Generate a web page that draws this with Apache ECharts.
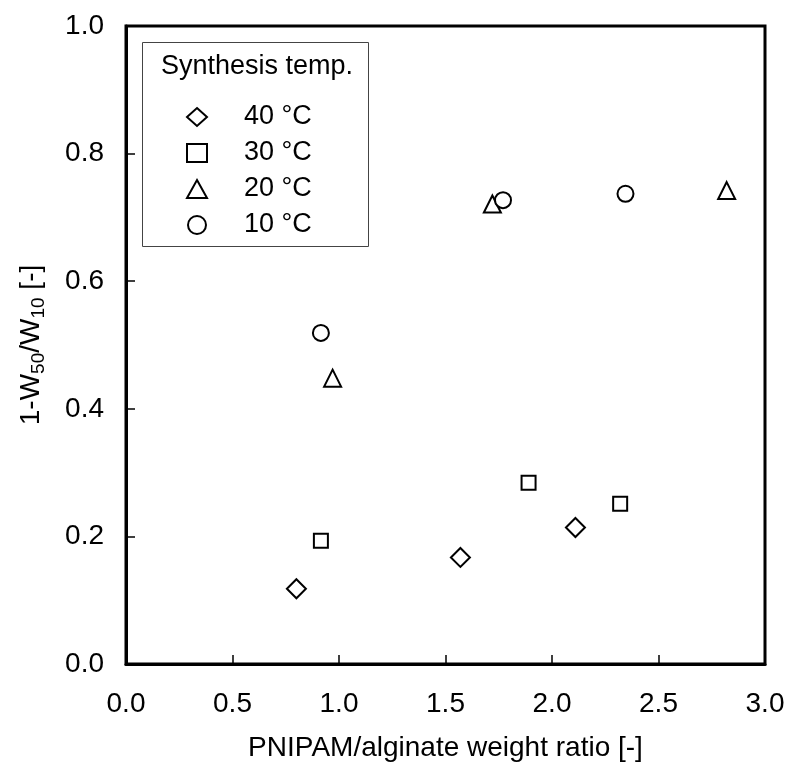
<!DOCTYPE html>
<html>
<head>
<meta charset="UTF-8">
<title>PNIPAM/alginate</title>
<style>
html, body { margin: 0; padding: 0; background: #fff; }
#chart { width: 791px; height: 767px; }
</style>
</head>
<body>
<div id="chart"></div>
<script src="https://cdn.jsdelivr.net/npm/echarts@6/dist/echarts.min.js"></script>
<script>
// data: [PNIPAM/alginate ratio, 1-W50/W10]
var seriesNames = ['40 °C', '30 °C', '20 °C', '10 °C'];
var t40 = [[0.80, 0.118], [1.57, 0.167], [2.11, 0.214]];
var t30 = [[0.915, 0.193], [1.89, 0.284], [2.32, 0.251]];
var t20 = [[0.97, 0.448], [1.72, 0.721], [2.82, 0.742]];
var t10 = [[0.915, 0.519], [1.77, 0.727], [2.345, 0.737]];

var FONT = "'Liberation Sans', Arial, sans-serif";
var chart = echarts.init(document.getElementById('chart'));

function mk(name, sym, size, data) {
  return {
    name: name,
    type: 'scatter',
    symbol: sym,
    symbolSize: size,
    data: data,
    itemStyle: { color: '#fff', borderColor: '#000', borderWidth: 2, opacity: 1 },
    emphasis: { disabled: true }
  };
}

var option = {
  backgroundColor: '#fff',
  animation: false,
  textStyle: { fontFamily: FONT },
  title: {
    text: 'Synthesis temp.',
    left: 161, top: 53, padding: 0,
    textStyle: { fontFamily: FONT, fontSize: 27, fontWeight: 'normal', color: '#000' }
  },
  legend: {
    orient: 'vertical',
    left: 186, top: 103, padding: 0,
    itemWidth: 20, itemHeight: 18, itemGap: 8,
    data: seriesNames,
    itemStyle: { color: '#fff', borderColor: '#000', borderWidth: 2 },
    textStyle: { fontFamily: FONT, fontSize: 27, color: '#000', lineHeight: 28, padding: [0, 0, 0, 32] }
  },
  graphic: [{
    type: 'rect', left: 142, top: 42, z: 0,
    shape: { width: 226, height: 204 },
    style: { fill: '#fff', stroke: '#444', lineWidth: 1 }
  }],
  grid: {
    left: 126, right: 26, top: 26, bottom: 103,
    show: true, borderColor: '#000', borderWidth: 3, backgroundColor: 'transparent'
  },
  xAxis: {
    type: 'value', min: 0, max: 3, interval: 0.5,
    name: 'PNIPAM/alginate weight ratio [-]',
    nameLocation: 'middle', nameGap: 70,
    nameTextStyle: { fontFamily: FONT, fontSize: 28, color: '#000' },
    axisLine: { show: true, lineStyle: { color: '#000', width: 3 } },
    axisTick: { show: true, inside: true, length: 9, lineStyle: { color: '#000', width: 1.5 } },
    axisLabel: { margin: 26, fontFamily: FONT, fontSize: 28, color: '#000',
      formatter: function (v) { return v.toFixed(1); } },
    splitLine: { show: false }
  },
  yAxis: {
    type: 'value', min: 0, max: 1, interval: 0.2,
    name: '1-W{sub|50}/W{sub|10} [-]',
    nameLocation: 'middle', nameGap: 78,
    nameTextStyle: {
      fontFamily: FONT, fontSize: 28, color: '#000',
      rich: { sub: { fontFamily: FONT, fontSize: 19, color: '#000', padding: [14, 0, 0, 0] } }
    },
    axisLine: { show: true, lineStyle: { color: '#000', width: 3 } },
    axisTick: { show: true, inside: true, length: 9, lineStyle: { color: '#000', width: 1.5 } },
    axisLabel: { margin: 22, fontFamily: FONT, fontSize: 28, color: '#000',
      formatter: function (v) { return v.toFixed(1); } },
    splitLine: { show: false }
  },
  series: [
    mk(seriesNames[0], 'diamond', 19, t40),
    mk(seriesNames[1], 'rect', 14, t30),
    mk(seriesNames[2], 'triangle', 17, t20),
    mk(seriesNames[3], 'circle', 16, t10)
  ]
};
chart.setOption(option);
</script>
</body>
</html>
